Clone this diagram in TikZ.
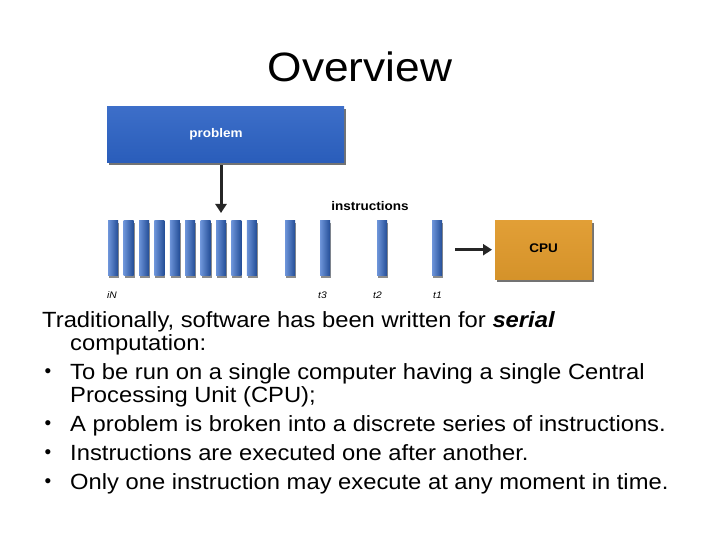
\documentclass[tikz,border=0pt]{standalone}
\usepackage{fontspec}
\setmainfont{Liberation Sans}
\usetikzlibrary{arrows.meta,shadows}
\definecolor{probblue}{HTML}{2C62C4}
\definecolor{barblue}{HTML}{2E66C8}
\definecolor{cpuorange}{HTML}{E09A2C}
\newcommand{\wider}[1]{\scalebox{1.08}[1]{#1}}
\newcommand{\bulletdot}{\raisebox{1.2pt}{\fontsize{19}{20}\selectfont•}}

\begin{document}
\begin{tikzpicture}[x=1pt,y=1pt,>=Latex,
  box/.style={inner sep=0,drop shadow={shadow xshift=2pt,shadow yshift=-3pt,opacity=0.55,fill=black}},
  bar/.style={inner sep=0,minimum width=10pt,minimum height=55pt,anchor=north west,
    drop shadow={shadow xshift=1pt,shadow yshift=-3pt,opacity=0.45,fill=black},
    left color=barblue!70!white,middle color=barblue,right color=barblue!75!black},
  lab/.style={font=\fontsize{12.5}{14}\selectfont\bfseries,inner sep=0,anchor=base},
  tlab/.style={font=\fontsize{9.5}{10}\selectfont\itshape,inner sep=0,anchor=base west},
  txt/.style={font=\fontsize{22}{26}\selectfont,inner sep=0,anchor=base west},
  flow/.style={-{Triangle[width=11pt,length=9pt]},line width=3pt,black!85}]
  \useasboundingbox[fill=white] (0,0) rectangle (720,-540);
  \node[font=\fontsize{41}{48}\selectfont,inner sep=0,anchor=base] (title) at (360,-82) {\wider{Overview}};
  % problem box and instruction bars
  \node[box,top color=probblue!92!white,bottom color=probblue!95!black,minimum width=237pt,minimum height=56pt,anchor=north west] (problem) at (107,-106) {};
  \node[lab,text=white] (problemtext) at (216,-137.5) {\wider{problem}};
  \foreach \i in {1,...,10}
    \node[bar] (bar\i) at ({108+15.4*(\i-1)},-220) {};
  \node[bar] (bar11) at (285,-220) {};
  \node[bar] (t3bar) at (320,-220) {};
  \node[bar] (t2bar) at (377,-220) {};
  \node[bar] (t1bar) at (432,-220) {};
  \node[lab] (instr) at (370,-210.5) {\wider{instructions}};
  \node[box,top color=cpuorange!95!white,bottom color=cpuorange!95!black,minimum width=97pt,minimum height=59pt,anchor=north west] (cpu) at (495,-220) {};
  \node[lab] (cputext) at (543.5,-252.7) {\wider{CPU}};
  \draw[flow,shorten <=3pt,shorten >=7pt] (problem.south -| bar8.north) -- (bar8.north);
  \draw[flow,shorten <=13pt,shorten >=3pt] (t1bar.east |- cpu.west) -- (cpu.west);
  \node[tlab] (iN) at (107,-298) {\wider{iN}};
  \node[tlab] (t3) at (318,-298) {\wider{t3}};
  \node[tlab] (t2) at (373,-298) {\wider{t2}};
  \node[tlab] (t1) at (433,-298) {\wider{t1}};
  % text
  \node[txt] (l1) at (42,-327) {\wider{Traditionally, software has been written for \textbf{\textit{serial}}}};
  \node[txt] (l2) at (70,-350) {\wider{computation:}};
  \node[txt] (b1) at (44.5,-379) {\bulletdot};
  \node[txt] (l3) at (70,-379) {\wider{To be run on a single computer having a single Central}};
  \node[txt] (l4) at (70,-402) {\wider{Processing Unit (CPU);}};
  \node[txt] (b2) at (44.5,-431) {\bulletdot};
  \node[txt] (l5) at (70,-431) {\wider{A problem is broken into a discrete series of instructions.}};
  \node[txt] (b3) at (44.5,-460) {\bulletdot};
  \node[txt] (l6) at (70,-460) {\wider{Instructions are executed one after another.}};
  \node[txt] (b4) at (44.5,-489) {\bulletdot};
  \node[txt] (l7) at (70,-489) {\wider{Only one instruction may execute at any moment in time.}};
\end{tikzpicture}
\end{document}
